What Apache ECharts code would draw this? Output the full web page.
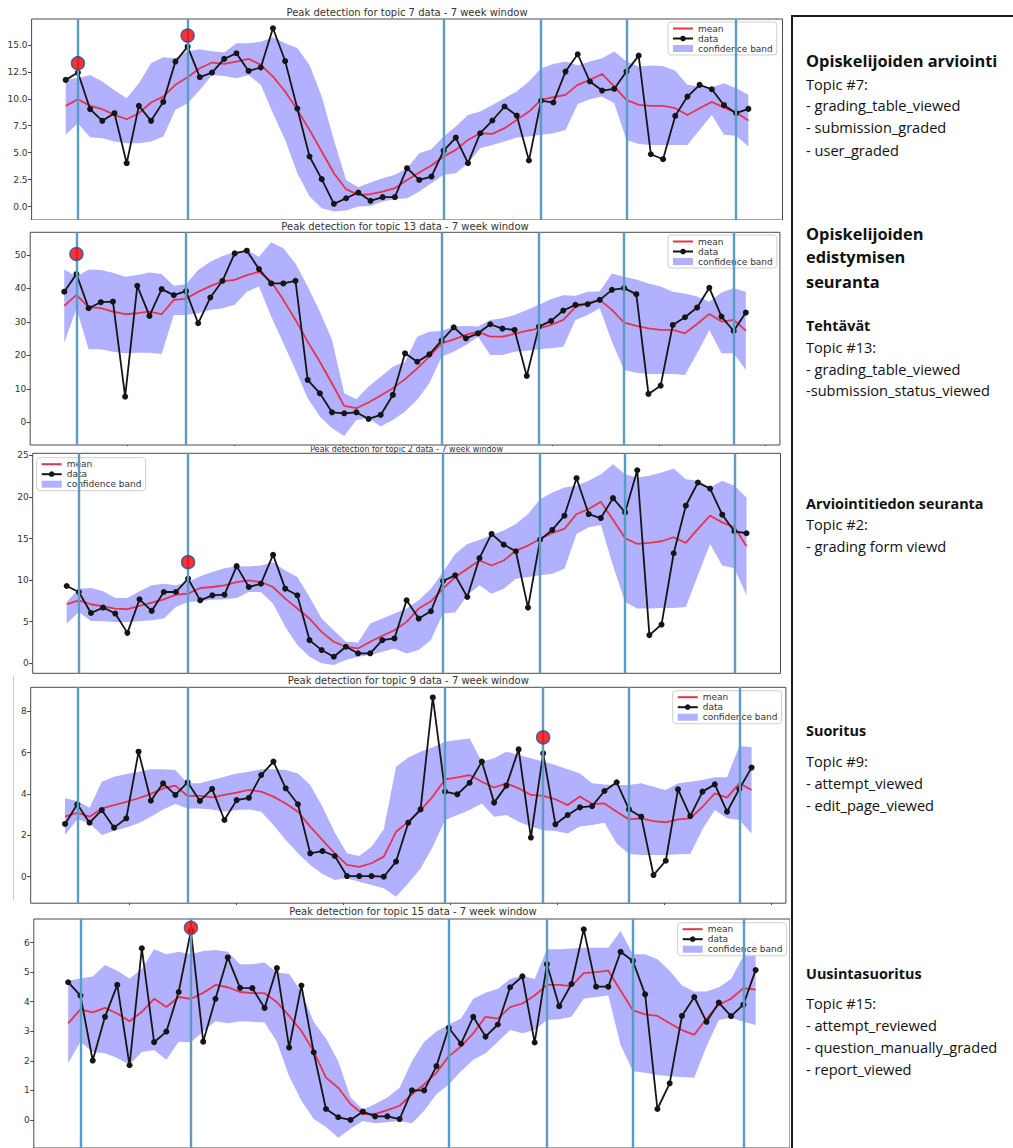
<!DOCTYPE html>
<html><head><meta charset="utf-8">
<script src="https://cdn.jsdelivr.net/npm/echarts@6/dist/echarts.min.js"></script>
<style>
html,body{margin:0;padding:0;background:#fff;}
#page{position:relative;width:1013px;height:1148px;overflow:hidden;background:#fff;}
.tile{position:absolute;left:0;width:790px;overflow:hidden;}
#notes{position:absolute;left:791px;top:15px;width:235px;height:1150px;border:2px solid #1b1b1b;box-sizing:border-box;font-family:'Open Sans','Noto Sans',sans-serif;color:#111;background:#fff;}
.n{position:absolute;left:13px;white-space:nowrap;}
#pink{position:absolute;left:13px;top:676px;width:1px;height:224px;background:#dcc3cc;}
</style>
</head><body>
<div id="page">
  <div class="tile" id="t1" style="top:0;height:220px"></div>
  <div class="tile" id="t2" style="top:220px;height:226px"></div>
  <div class="tile" id="t3" style="top:446px;height:228px"></div>
  <div class="tile" id="t4" style="top:674px;height:231px"></div>
  <div class="tile" id="t5" style="top:906px;height:242px"></div>
  <div id="pink"></div>
  <div id="notes"></div>
</div>
<script>
// ---------- shared axis marks ----------
const xTicks = [5.2, 13.93, 22.66, 31.39, 40.12, 48.85, 57.58];
const peakLines = [1, 10, 31, 39, 46, 55];

// ---------- topic 7 ----------
const t7Data = [11.75,12.43,9.03,7.95,8.66,4.02,9.34,7.95,9.71,13.45,14.84,12.0,12.43,13.7,14.22,12.58,12.9,16.54,13.5,9.09,4.64,2.54,0.25,0.77,1.3,0.53,0.87,0.87,3.56,2.47,2.78,5.19,6.4,4.02,6.8,7.98,9.28,8.44,4.27,9.83,9.65,12.52,14.13,11.6,10.76,10.92,12.52,14.0,4.85,4.39,8.41,10.2,11.29,10.88,9.4,8.66,9.06];
const t7Mean = [9.34,9.96,9.34,9.03,8.5,8.1,8.66,9.65,10.2,11.29,12.0,12.83,13.36,13.23,13.45,13.7,13.14,12.06,10.67,8.97,7.11,5.1,3.09,1.61,1.08,1.14,1.39,1.7,2.47,3.15,3.8,4.64,5.26,6.18,6.8,6.74,7.27,8.04,8.81,9.89,10.14,10.36,11.29,11.75,12.3,11.13,9.89,9.43,9.34,9.34,9.12,8.5,9.12,9.71,9.18,8.72,7.98];
const t7Upper = [11.8,11.9,12.2,11.6,10.8,10.05,11.44,13.3,13.85,13.76,14.4,14.6,14.4,14.3,15.15,15.15,15.3,15.7,15.15,14.7,13.14,10.2,6.18,2.47,1.79,2.23,2.63,2.94,3.56,4.95,5.32,6.49,7.42,8.5,8.81,9.43,10.05,10.67,11.6,12.83,13.23,13.45,13.08,13.45,13.76,14.38,13.45,12.99,13.08,13.05,12.6,11.29,11.13,11.07,11.44,10.98,10.36];
const t7Lower = [6.65,7.73,6.43,6.34,6.03,5.87,5.87,6.03,6.49,8.97,9.59,10.82,12.2,12.1,11.9,12.2,11.29,8.66,6.18,3.09,0.93,-0.15,-0.46,-0.37,0,0.06,0.46,0.68,0.77,1.39,2.16,2.94,3.09,4.02,5.41,5.72,6.03,6.4,6.49,6.65,6.8,7.11,9.52,9.96,10.2,9.59,6.18,5.81,5.72,5.72,5.72,5.72,7.11,8.5,6.65,6.56,5.57];
const t7Peaks = [[1, 13.3], [10, 15.86]];
const t7YTicks = [0, 2.5, 5, 7.5, 10, 12.5, 15];

// ---------- topic 13 ----------
const t13Data = [39.05,44.3,34.1,35.9,36.1,7.66,40.8,31.8,39.8,38.0,39.2,29.6,37.3,42.3,50.5,51.3,45.8,41.5,41.5,42.3,12.65,8.66,2.98,2.68,2.98,0.99,2.18,8.16,20.6,18.1,20.3,24.4,28.4,25.1,26.6,29.3,28.0,27.6,13.84,28.6,30.3,33.4,35.1,35.3,36.6,39.6,40.1,38.3,8.46,10.95,29.1,31.4,34.3,40.2,31.6,27.3,32.8];
const t13Mean = [34.8,38.1,34.4,34.1,33.1,32.3,32.6,33.1,32.3,36.6,36.9,39.0,40.7,42.1,42.6,44.0,45.0,42.1,36.6,30.6,24.1,18.1,11.6,4.9,4.2,5.9,8.0,10.2,12.9,16.1,19.6,23.6,24.8,26.1,27.1,25.6,25.6,26.4,27.3,28.1,29.1,30.6,34.4,35.6,36.6,33.6,29.8,28.8,28.1,27.6,27.6,26.6,29.4,32.4,30.1,30.6,27.4];
const t13Upper = [45.7,43.5,45.7,45.5,44.7,43.5,44.0,44.8,44.3,40.8,41.3,45.5,48.0,49.7,50.8,51.5,49.5,53.8,52.0,47.5,40.6,33.1,24.6,8.7,6.9,10.7,13.6,16.6,18.1,25.6,27.1,27.3,28.6,28.8,28.6,30.6,31.1,32.1,33.6,35.1,36.8,38.0,37.8,39.0,39.2,44.5,43.5,42.7,41.5,40.6,39.0,38.5,37.6,36.0,38.8,40.1,39.0];
const t13Lower = [23.8,34.0,21.8,21.8,21.1,20.6,20.8,20.8,20.4,32.1,32.1,32.6,33.6,34.1,35.1,39.0,40.6,31.6,23.6,15.6,7.2,1.7,-1.8,-4.1,0.7,1.2,-1.3,0.7,3.2,6.7,11.7,19.6,21.1,23.1,25.6,20.1,20.1,21.1,21.4,21.8,22.1,22.6,30.6,32.1,34.1,24.1,15.6,14.8,14.4,14.4,14.4,14.1,20.6,27.6,20.6,20.6,15.6];
const t13Peaks = [[1, 50.3]];
const t13YTicks = [0, 10, 20, 30, 40, 50];

// ---------- topic 2 ----------
const t2Data = [9.29,8.57,6.05,6.7,5.98,3.66,7.69,6.3,8.57,8.57,10.17,7.57,8.17,8.25,11.68,9.17,9.57,13.03,8.97,8.17,2.79,1.59,0.79,1.99,1.2,1.2,2.79,2.99,7.57,5.38,6.26,9.89,10.57,7.97,12.64,15.55,14.27,13.47,6.7,14.87,16.03,17.74,22.25,17.94,17.46,19.85,18.14,23.2,3.39,4.66,13.23,18.94,21.73,21.0,17.86,15.87,15.63];
const t2Mean = [7.1,7.57,7.1,6.85,6.58,6.5,6.9,7.3,7.69,8.25,8.37,9.05,9.17,9.37,9.77,9.97,9.77,9.17,7.77,6.58,5.38,3.78,2.59,1.99,1.79,2.59,3.31,3.98,4.98,6.58,7.45,8.97,10.37,11.36,12.36,11.76,12.36,13.55,14.15,14.95,15.67,16.15,17.94,18.54,19.41,17.26,15.03,14.35,14.47,14.67,15.15,14.47,16.15,17.74,16.94,16.34,14.07];
const t2Upper = [7.37,8.97,9.05,8.65,7.85,7.85,8.65,9.37,9.57,9.37,9.77,10.45,10.96,11.44,11.68,11.64,11.76,12.16,11.16,10.37,7.97,5.38,3.98,2.59,2.51,4.78,5.38,5.98,6.58,7.57,8.97,10.96,13.15,14.35,14.83,15.43,15.95,16.74,17.94,19.73,20.53,21.13,21.33,21.93,22.73,23.92,22.73,22.33,22.53,22.93,23.41,22.13,21.93,21.13,21.93,21.33,19.93];
const t2Lower = [4.78,6.18,5.1,5.06,4.98,4.98,5.06,5.18,5.38,6.78,7.37,7.45,7.65,7.69,7.85,8.57,8.57,7.17,4.38,2.19,0.79,0.0,-0.2,0.4,0.79,0.99,1.39,1.79,1.19,1.59,2.79,5.98,6.1,8.17,9.37,8.37,8.97,10.17,10.37,10.57,10.77,11.36,15.55,16.34,16.62,11.76,7.37,6.58,6.58,6.65,6.65,6.78,10.57,14.35,11.76,11.44,8.17];
const t2Peaks = [[10, 12.16]];
const t2YTicks = [0, 5, 10, 15, 20, 25];

// ---------- topic 9 ----------
const t9Data = [2.55,3.5,2.61,3.22,2.37,2.82,6.04,3.67,4.51,3.95,4.56,3.66,4.24,2.74,3.7,3.81,4.91,5.56,4.27,3.5,1.13,1.24,1.0,0.03,0.03,0.03,0.0,0.73,2.61,3.25,8.66,4.11,3.98,4.54,5.56,3.58,4.4,6.15,1.89,5.96,2.53,2.98,3.35,3.41,4.14,4.56,3.25,2.9,0.08,0.77,4.22,2.93,4.11,4.46,3.14,4.24,5.27];
const t9Mean = [2.9,3.09,2.9,3.3,3.46,3.62,3.79,4.0,4.27,4.4,3.9,3.9,3.83,3.95,4.06,4.19,4.11,3.87,3.54,3.14,2.42,1.77,1.13,0.57,0.48,0.65,0.97,2.17,2.66,3.22,3.87,4.7,4.8,4.91,4.59,4.31,4.51,4.27,3.95,3.9,3.74,3.46,3.87,3.51,3.54,3.14,2.77,2.82,2.69,2.63,2.77,2.82,3.38,4.03,3.82,4.51,4.19];
const t9Upper = [3.79,3.66,3.33,4.59,4.83,4.96,5.07,5.19,5.19,5.15,4.51,4.51,4.67,4.83,4.99,5.07,5.19,5.19,5.15,4.99,4.43,3.38,2.13,1.13,1.0,1.45,2.29,5.31,5.76,6.04,6.25,6.52,6.6,6.68,5.56,5.72,6.04,5.88,5.72,5.56,5.4,5.19,4.99,4.51,4.46,4.43,4.43,4.51,4.35,4.19,4.51,4.59,4.67,4.8,4.8,6.32,6.25];
const t9Lower = [2.01,2.77,2.58,2.01,2.22,2.38,2.58,2.9,3.25,3.51,3.3,3.3,3.25,3.14,3.22,3.25,3.14,2.5,1.77,1.13,0.57,0.13,-0.16,-0.08,-0.24,-0.4,-0.56,-0.97,-0.32,0.4,1.45,2.74,2.98,3.22,3.54,2.9,2.98,2.66,2.42,2.25,2.21,2.09,2.42,2.5,2.61,1.61,1.1,1.05,1.05,1.05,1.08,1.1,2.29,3.22,2.82,2.74,2.09];
const t9Peaks = [[39, 6.73]];
const t9YTicks = [0, 2, 4, 6, 8];

// ---------- topic 15 ----------
const t15Data = [4.66,4.21,2.01,3.49,4.57,1.85,5.81,2.63,2.99,4.33,6.4,2.65,4.1,5.5,4.47,4.46,3.79,5.14,2.45,4.55,2.29,0.37,0.09,0.0,0.28,0.12,0.12,0.03,1.0,1.0,1.82,3.12,2.58,3.49,2.82,3.23,4.49,4.86,2.62,5.27,3.85,4.6,6.45,4.51,4.51,5.69,5.38,4.25,0.37,1.24,3.52,4.16,3.32,3.97,3.51,3.9,5.07];
const t15Mean = [3.27,3.74,3.64,3.79,3.6,3.34,3.66,4.1,3.82,4.16,4.1,4.3,4.57,4.49,4.33,4.29,4.29,3.99,3.52,3.01,2.32,1.43,1.09,0.54,0.2,0.2,0.33,0.48,0.87,1.2,1.6,2.15,2.49,2.93,3.49,3.43,3.82,3.94,4.21,4.57,4.57,4.53,4.97,5.0,5.05,4.38,3.71,3.57,3.52,3.27,3.04,2.88,3.43,3.9,4.1,4.46,4.41];
const t15Upper = [4.71,4.79,4.85,5.24,5.05,4.79,5.11,5.78,5.61,5.69,5.61,5.72,5.75,5.69,5.27,5.27,5.33,4.99,4.94,4.33,3.32,2.76,1.99,0.76,0.35,0.54,0.76,1.09,1.99,2.65,2.99,3.23,3.43,4.1,4.3,4.44,4.77,4.88,4.77,5.78,5.78,5.8,5.83,5.83,5.83,6.39,5.61,5.61,5.44,5.05,4.55,4.35,4.35,4.49,4.77,5.55,6.11];
const t15Lower = [1.93,2.65,2.3,2.26,2.1,1.87,2.3,2.37,2.04,2.65,2.63,2.99,3.34,3.27,3.34,3.32,3.3,2.65,1.48,0.65,0.03,-0.24,-0.6,-0.3,-0.04,-0.11,-0.08,-0.04,-0.11,0.31,0.87,1.2,1.65,2.04,2.26,2.65,3.04,2.93,3.04,3.38,3.41,3.49,4.1,4.16,4.21,2.54,1.65,1.6,1.52,1.48,1.45,1.43,2.49,3.38,3.46,3.32,3.21];
const t15Peaks = [[10, 6.5]];
const t15YTicks = [0, 1, 2, 3, 4, 5, 6];

// ---------- side notes ----------
const noteLines = [
  ["Opiskelijoiden arviointi", 60, "h1"],
  ["Topic #7:", 84, "r"],
  ["- grading_table_viewed", 105, "r"],
  ["- submission_graded", 127, "r"],
  ["- user_graded", 150, "r"],
  ["Opiskelijoiden", 233, "h1"],
  ["edistymisen", 256, "h1"],
  ["seuranta", 281, "h1"],
  ["Tehtävät", 325, "h2"],
  ["Topic #13:", 347, "r"],
  ["- grading_table_viewed", 369, "r"],
  ["-submission_status_viewed", 390, "r"],
  ["Arviointitiedon seuranta", 503, "h2"],
  ["Topic #2:", 524, "r"],
  ["- grading form viewd", 546, "r"],
  ["Suoritus", 730, "h2"],
  ["Topic #9:", 761, "r"],
  ["- attempt_viewed", 783, "r"],
  ["- edit_page_viewed", 805, "r"],
  ["Uusintasuoritus", 973, "h2"],
  ["Topic #15:", 1003, "r"],
  ["- attempt_reviewed", 1025, "r"],
  ["- question_manually_graded", 1047, "r"],
  ["- report_viewed", 1069, "r"]
];

// ---------- styling / layout ----------
const BAND = 'rgba(40,40,255,0.36)';
const MEAN = '#e6344e';
const VLINE = '#5a9cc4';
const FONT = 'DejaVu Sans';

const panels = [
  {el:'t1', title:'Peak detection for topic 7 data - 7 week window', ty:12, tfs:10,
   grid:[31.6,19,750.9,201], y:[-1.25,17.4], ticks:t7YTicks, dec:1, leg:[668,22],
   data:t7Data, mean:t7Mean, upper:t7Upper, lower:t7Lower, peaks:t7Peaks},
  {el:'t2', title:'Peak detection for topic 13 data - 7 week window', ty:6, tfs:10,
   grid:[30.2,12.3,749.7,212.7], y:[-6.8,56.8], ticks:t13YTicks, dec:0, leg:[668,15],
   data:t13Data, mean:t13Mean, upper:t13Upper, lower:t13Lower, peaks:t13Peaks},
  {el:'t3', title:'Peak detection for topic 2 data - 7 week window', ty:3.2, tfs:8,
   grid:[32.7,7.3,747.8,220], y:[-1.2,25.24], ticks:t2YTicks, dec:0, leg:[36.7,11.7],
   data:t2Data, mean:t2Mean, upper:t2Upper, lower:t2Lower, peaks:t2Peaks},
  {el:'t4', title:'Peak detection for topic 9 data - 7 week window', ty:6, tfs:10,
   grid:[30.7,13.3,755.2,215.9], y:[-1.28,9.15], ticks:t9YTicks, dec:0, leg:[672.7,16.7],
   data:t9Data, mean:t9Mean, upper:t9Upper, lower:t9Lower, peaks:t9Peaks},
  {el:'t5', title:'Peak detection for topic 15 data - 7 week window', ty:5.5, tfs:10,
   grid:[33.8,13,758.3,231.7], y:[-0.95,6.8], ticks:t15YTicks, dec:0, leg:[677.7,16.7],
   data:t15Data, mean:t15Mean, upper:t15Upper, lower:t15Lower, peaks:t15Peaks}
];

function pair(arr){ return arr.map((v,i)=>[i,v]); }

panels.forEach(p=>{
  const el = document.getElementById(p.el);
  const chart = echarts.init(el, null, {renderer:'svg'});
  const cx = p.grid[0] + p.grid[2]/2;
  chart.setOption({
    animation:false,
    textStyle:{fontFamily:FONT},
    grid:{left:p.grid[0], top:p.grid[1], width:p.grid[2], height:p.grid[3],
          show:true, borderColor:'#4a4a4a', borderWidth:1, backgroundColor:'#fff'},
    xAxis:{type:'value', min:-2.8, max:58.8,
           axisLine:{show:false, onZero:false}, splitLine:{show:false},
           axisLabel:{show:false},
           axisTick:{show:true, length:3.5, lineStyle:{color:'#444'}, customValues:xTicks}},
    yAxis:{type:'value', min:p.y[0], max:p.y[1],
           axisLine:{show:false, onZero:false}, splitLine:{show:false},
           axisTick:{show:true, length:3.5, lineStyle:{color:'#444'}, customValues:p.ticks},
           axisLabel:{fontSize:9, color:'#333', margin:4, fontFamily:FONT, customValues:p.ticks,
                      formatter:v=>Number(v).toFixed(p.dec)}},
    legend:{orient:'vertical', left:p.leg[0], top:p.leg[1],
            itemWidth:20, itemHeight:7, itemGap:1, padding:[2,4,2,4],
            borderColor:'#cfcfcf', borderWidth:1, borderRadius:3,
            backgroundColor:'rgba(255,255,255,0.85)', selectedMode:false,
            textStyle:{fontSize:9, color:'#333', fontFamily:FONT, lineHeight:9},
            data:[{name:'mean', itemStyle:{opacity:0}},{name:'data'},
                  {name:'confidence band', icon:'rect', itemStyle:{color:BAND}}]},
    graphic:[{type:'text', x:cx, y:p.ty, z:100,
              style:{text:p.title, fontSize:p.tfs, fontFamily:FONT, fill:'#333',
                     align:'center', verticalAlign:'middle'}}],
    series:[
      {name:'confidence band', type:'custom', silent:true, z:1,
       data:p.lower.map((l,i)=>[i, l, p.upper[i]]),
       encode:{x:0, y:[1,2]}, itemStyle:{color:BAND},
       renderItem:(params, api)=>{
         if (params.dataIndex !== 0) return;
         const up = p.upper.map((u,i)=>api.coord([i,u]));
         const lo = p.lower.map((l,i)=>api.coord([i,l])).reverse();
         return {type:'polygon', shape:{points:up.concat(lo)}, style:{fill:BAND}};
       }},
      {name:'vlines', type:'line', data:pair(p.mean), symbol:'none',
       lineStyle:{opacity:0, width:0}, silent:true, z:2,
       markLine:{silent:true, symbol:['none','none'], label:{show:false},
                 lineStyle:{color:VLINE, width:2.4, type:'solid', opacity:1},
                 emphasis:{disabled:true},
                 data:peakLines.map(v=>({xAxis:v}))}},
      {name:'mean', type:'line', data:pair(p.mean), symbol:'none',
       lineStyle:{color:MEAN, width:1.8}, itemStyle:{color:MEAN}, silent:true, z:3},
      {name:'data', type:'line', data:pair(p.data), symbol:'circle', symbolSize:6, showSymbol:true,
       lineStyle:{color:'#151515', width:1.8}, itemStyle:{color:'#151515'}, silent:true, z:4},
      {name:'peak', type:'scatter', data:p.peaks, symbol:'circle', symbolSize:13,
       itemStyle:{color:'#ff0000', borderColor:'#2d4f9a', borderWidth:1.5}, silent:true, z:5}
    ]
  });
});

// side notes
const notes = document.getElementById('notes');
const styles = {h1:{size:16.4, weight:'bold'}, h2:{size:14.4, weight:'bold'}, r:{size:14.6, weight:'normal'}};
noteLines.forEach(([txt, yc, kind])=>{
  const s = styles[kind];
  const d = document.createElement('div');
  d.className = 'n';
  d.textContent = txt;
  const lh = Math.round(s.size*1.3);
  d.style.fontSize = s.size + 'px';
  d.style.fontWeight = s.weight;
  d.style.lineHeight = lh + 'px';
  d.style.top = (yc - 17 - lh/2) + 'px';
  notes.appendChild(d);
});
</script>
</body></html>
